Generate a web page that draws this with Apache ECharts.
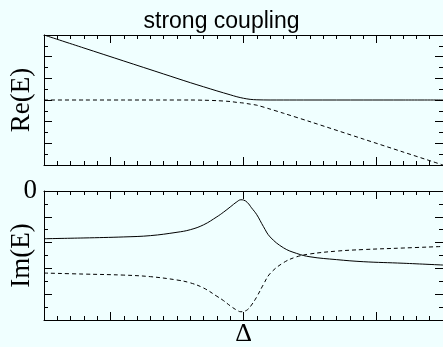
<!DOCTYPE html>
<html>
<head>
<meta charset="utf-8">
<script src="https://cdn.jsdelivr.net/npm/echarts@6/dist/echarts.min.js"></script>
<style>
  html, body { margin: 0; padding: 0; background: #f0ffff; }
  #chart { width: 443px; height: 347px; }
</style>
</head>
<body>
<div id="chart"></div>
<script>
// detuning axis, Δ at 0
var xRe = [-1.5, -1.2, -0.9, -0.6, -0.4, -0.3, -0.2, -0.1, -0.05, 0, 0.05, 0.1, 0.2, 0.3, 0.5, 0.9, 1.2, 1.5];
var reUpper = [6.0, 5.4, 4.8, 4.2, 3.8, 3.61, 3.42, 3.24, 3.15, 3.08, 3.03, 3.01, 3.0, 3.0, 3.0, 3.0, 3.0, 3.0];
var reLower = [3.0, 3.0, 3.0, 3.0, 3.0, 2.99, 2.97, 2.93, 2.89, 2.86, 2.81, 2.76, 2.58, 2.39, 2.0, 1.2, 0.6, 0.0];

var xIm = [-1.5, -1.2, -0.9, -0.7, -0.5, -0.4, -0.3, -0.2, -0.15, -0.1, -0.05, -0.02, 0, 0.03, 0.06, 0.1, 0.15, 0.2, 0.3, 0.4, 0.5, 0.7, 0.9, 1.2, 1.5];
var imUpper = [-1.85, -1.82, -1.78, -1.73, -1.6, -1.5, -1.31, -1.0, -0.82, -0.62, -0.42, -0.34, -0.35, -0.45, -0.65, -0.92, -1.38, -1.78, -2.2, -2.42, -2.55, -2.66, -2.74, -2.8, -2.87];
var imLower = [-3.18, -3.22, -3.26, -3.32, -3.45, -3.56, -3.76, -4.08, -4.25, -4.45, -4.62, -4.68, -4.67, -4.6, -4.42, -4.1, -3.62, -3.2, -2.78, -2.55, -2.44, -2.33, -2.27, -2.21, -2.15];

var xMajor = [-1, 0, 1];
var labelRe = 'Re(E)';
var labelIm = 'Im(E)';
var labelDelta = 'Δ';

function pairs(xs, ys) {
  return xs.map(function(x, i) { return [x, ys[i]]; });
}

var serif = 'Liberation Serif';

// 一个坐标轴：只画刻度，不画标签
function xAx(grid, pos, major, withLine) {
  var a = {
    type: 'value', gridIndex: grid, position: pos, min: -1.5, max: 1.5,
    axisLine: { show: withLine, onZero: false, lineStyle: { color: '#000', width: 1 } },
    splitLine: { show: false },
    axisLabel: { show: false },
    axisTick: { show: true, inside: true, length: major ? 8 : 4, lineStyle: { color: '#000', width: 1 } }
  };
  if (major) {
    a.axisTick.customValues = xMajor;
  } else {
    a.interval = 0.1;
  }
  return a;
}

function yAx(grid, pos, min, max, step, major, withLine) {
  return {
    type: 'value', gridIndex: grid, position: pos, min: min, max: max, interval: step,
    axisLine: { show: withLine, onZero: false, lineStyle: { color: '#000', width: 1 } },
    splitLine: { show: false },
    axisLabel: { show: false },
    axisTick: { show: true, inside: true, length: major ? 8 : 4, lineStyle: { color: '#000', width: 1 } }
  };
}

var xAxes = [
  xAx(0, 'bottom', false, true), xAx(0, 'top', false, true),
  xAx(0, 'bottom', true, false), xAx(0, 'top', true, false),
  xAx(1, 'bottom', false, true), xAx(1, 'top', false, true),
  xAx(1, 'bottom', true, false), xAx(1, 'top', true, false)
];
// Δ label under the lower panel
xAxes[6].axisLabel = {
  show: true, customValues: [0], formatter: function() { return labelDelta; },
  fontFamily: serif, fontSize: 26, color: '#000', margin: 1
};

var yAxes = [
  yAx(0, 'left', 0, 6, 0.5, false, true), yAx(0, 'right', 0, 6, 0.5, false, true),
  yAx(0, 'left', 0, 6, 1, true, false), yAx(0, 'right', 0, 6, 1, true, false),
  yAx(1, 'left', -5, 0, 0.5, false, true), yAx(1, 'right', -5, 0, 0.5, false, true),
  yAx(1, 'left', -5, 0, 1, true, false), yAx(1, 'right', -5, 0, 1, true, false)
];
var nameStyle = { fontFamily: serif, fontSize: 27, color: '#000' };
yAxes[0].name = labelRe;
yAxes[0].nameLocation = 'middle';
yAxes[0].nameRotate = 90;
yAxes[0].nameGap = 9;
yAxes[0].nameTextStyle = nameStyle;
yAxes[4].name = labelIm;
yAxes[4].nameLocation = 'middle';
yAxes[4].nameRotate = 90;
yAxes[4].nameGap = 9;
yAxes[4].nameTextStyle = nameStyle;
yAxes[6].axisLabel = {
  show: true, customValues: [0], fontFamily: serif, fontSize: 27, color: '#000', margin: 7
};

function line(xi, yi, data, dashed, smooth) {
  return {
    type: 'line', xAxisIndex: xi, yAxisIndex: yi, data: data,
    showSymbol: false, smooth: smooth, silent: true, animation: false,
    lineStyle: { color: '#000', width: 1, type: dashed ? [4, 3] : 'solid' }
  };
}

var chart = echarts.init(document.getElementById('chart'), null, { renderer: 'canvas' });
chart.setOption({
  backgroundColor: '#f0ffff',
  animation: false,
  title: {
    text: 'strong coupling', left: 'center', top: 5,
    textStyle: { fontFamily: 'Liberation Sans', fontSize: 23, fontWeight: 'normal', color: '#000' }
  },
  grid: [
    { left: 37, top: 35, width: 409, height: 130 },
    { left: 37, top: 191, width: 409, height: 131 }
  ],
  xAxis: xAxes,
  yAxis: yAxes,
  series: [
    line(0, 0, pairs(xRe, reUpper), false, 0.3),
    line(0, 0, pairs(xRe, reLower), true, 0.3),
    line(4, 4, pairs(xIm, imUpper), false, 0.4),
    line(4, 4, pairs(xIm, imLower), true, 0.4)
  ]
});
</script>
</body>
</html>
